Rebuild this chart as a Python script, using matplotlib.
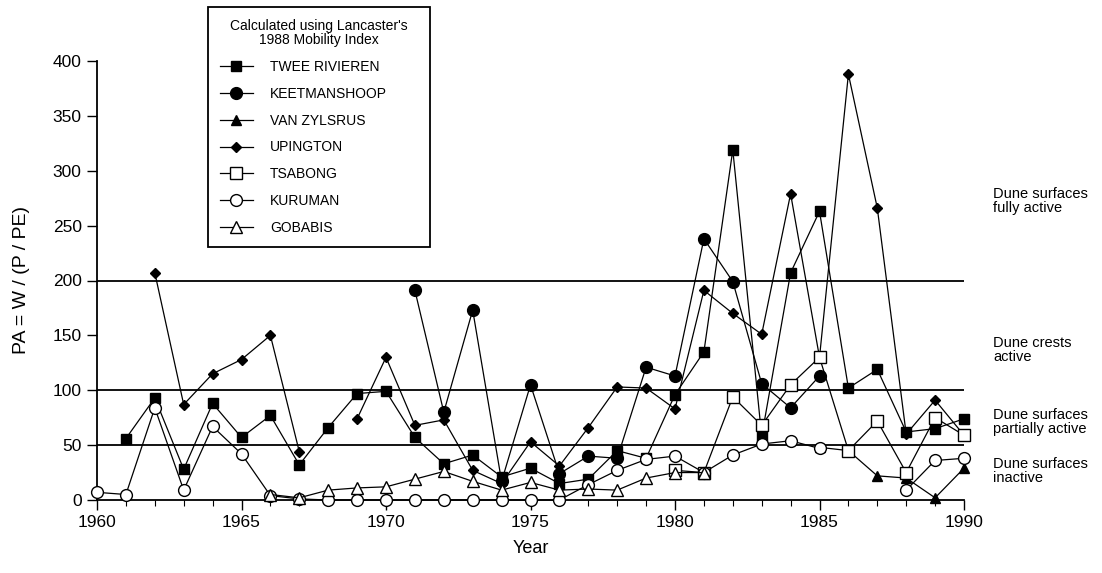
import numpy as np
import matplotlib
matplotlib.use("Agg")
import matplotlib.pyplot as plt
from matplotlib.ticker import MultipleLocator

plt.rcParams['font.family'] = ['Liberation Sans', 'DejaVu Sans']

years = list(range(1960, 1991))

twee_rivieren = [None, 56, 93, 28, 88, 57, 77, 32, 66, 97, 99, 57, 33, 41, 21,
                 29, 15, 19, 45, 38, 96, 135, 319, 58, 207, 263, 102, 119, 62, 65, 74]
keetmanshoop = [None] * 11 + [191, 80, 173, 17, 105, 24, 40, 38, 121, 113,
                              238, 199, 106, 84, 113] + [None] * 5
van_zylsrus = [None] * 25 + [48, 45, 22, 20, 2, 29]
upington = [None, None, 207, 87, 115, 128, 150, 44, None, 74, 130, 68, 73, 27, 15,
            53, 31, 66, 103, 102, 83, 191, 170, 151, 279, 130, 388, 266, 60, 91, 59]
tsabong = [None] * 20 + [27, 25, 94, 68, 105, 130, 45, 72, 25, 75, 59]
kuruman = [7, 5, 84, 9, 67, 42, 4, 1, 0, 0, 0, 0, 0, 0, 0, 0, 0, 14, 27, 37, 40,
           25, 41, 51, 54, 47, None, None, 9, 36, 38]
gobabis = [None] * 6 + [5, 2, 9, 11, 12, 19, 26, 17, 9, 16, 9, 10, 9, 20, 25, 25] + [None] * 9

thresholds = [200, 100, 50]
zone_labels = ["Dune surfaces\nfully active", "Dune crests\nactive",
               "Dune surfaces\npartially active", "Dune surfaces\ninactive"]
zone_label_y = [272, 137, 71, 26]

series = [
    ("TWEE RIVIEREN", twee_rivieren, dict(marker='s', ms=7, mfc='black')),
    ("KEETMANSHOOP", keetmanshoop, dict(marker='o', ms=8.5, mfc='black')),
    ("VAN ZYLSRUS", van_zylsrus, dict(marker='^', ms=6.5, mfc='black')),
    ("UPINGTON", upington, dict(marker='D', ms=5.5, mfc='black')),
    ("TSABONG", tsabong, dict(marker='s', ms=8, mfc='white')),
    ("KURUMAN", kuruman, dict(marker='o', ms=8.5, mfc='white')),
    ("GOBABIS", gobabis, dict(marker='^', ms=8, mfc='white')),
]

W, H = 1102, 573
fig = plt.figure(figsize=(W / 100, H / 100), dpi=100)
ax = fig.add_axes([97 / W, 1 - 500 / H, (964 - 97) / W, (500 - 61) / H])

for y in thresholds:
    ax.axhline(y, color='black', lw=1.3, zorder=1)

x = np.array(years, dtype=float)
for i, (name, vals, style) in enumerate(series):
    v = np.array([np.nan if a is None else a for a in vals], dtype=float)
    ax.plot(x, v, color='black', lw=0.9, mec='black', mew=1.0,
            label=name, clip_on=False, zorder=3 + i * 0.1, **style)

ax.set_xlim(1960, 1990)
ax.set_ylim(0, 400)
for side in ('top', 'right'):
    ax.spines[side].set_visible(False)
for side in ('left', 'bottom'):
    ax.spines[side].set_linewidth(1.3)

ax.xaxis.set_major_locator(MultipleLocator(5))
ax.xaxis.set_minor_locator(MultipleLocator(1))
ax.yaxis.set_major_locator(MultipleLocator(50))
ax.tick_params(axis='both', which='major', direction='out', length=7,
               width=1.0, labelsize=12.5, pad=4)
ax.tick_params(axis='x', which='minor', direction='out', length=4, width=0.8)

ax.set_xlabel("Year", fontsize=13, labelpad=7)
ax.set_ylabel("PA = W / (P / PE)", fontsize=14, labelpad=16)

for txt, yv in zip(zone_labels, zone_label_y):
    ax.text(1991.0, yv, txt, fontsize=10.5, va='center', ha='left',
            linespacing=1.0, clip_on=False)

leg = ax.legend(loc='upper left',
                bbox_to_anchor=(208 / W, 1 - 248 / H, 222 / W, 241 / H),
                bbox_transform=fig.transFigure, mode='expand',
                title="Calculated using Lancaster's\n1988 Mobility Index",
                fontsize=10, title_fontsize=10, frameon=True, fancybox=False,
                edgecolor='black', framealpha=1, handlelength=2.4,
                handletextpad=1.2, labelspacing=0.92, borderpad=0.85,
                borderaxespad=0)
leg.get_frame().set_linewidth(1.3)
leg.get_title().set_multialignment('center')
leg.get_title().set_linespacing(1.05)

fig.savefig("out.png", dpi=100)
